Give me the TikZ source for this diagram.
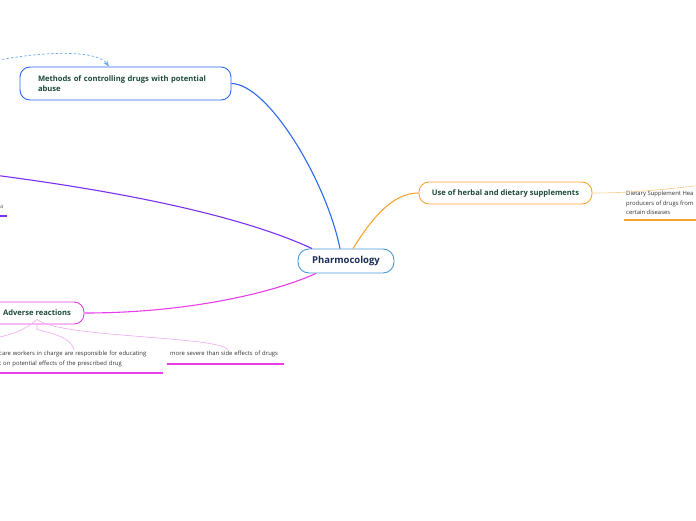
\documentclass[tikz,border=0pt]{standalone}
\usepackage{fontspec}
\setmainfont{Open Sans}
\usetikzlibrary{arrows.meta}

\definecolor{rootblue}{HTML}{4A9AD8}
\definecolor{rootink}{HTML}{1C2D5A}
\definecolor{topicink}{HTML}{1D4A3A}
\definecolor{methodblue}{HTML}{2D68F0}
\definecolor{dashblue}{HTML}{6AAAF0}
\definecolor{adversepurple}{HTML}{7B2FF7}
\definecolor{adversepink}{HTML}{E83EE8}
\definecolor{softpink}{HTML}{F2A6F2}
\definecolor{herbalorange}{HTML}{F7A531}
\definecolor{softorange}{HTML}{F9C98A}

\tikzset{
  rootbox/.style={draw=rootblue, line width=0.9pt, rounded corners=11pt, fill=white,
    minimum width=96pt, minimum height=24pt, inner sep=0pt, text=rootink,
    font=\fontsize{9.5}{11}\selectfont\bfseries},
  topicbox/.style={draw=#1, line width=0.9pt, rounded corners=10pt, fill=white,
    inner sep=0pt, text=topicink, font=\fontsize{7.6}{10}\selectfont\bfseries},
  leafnote/.style={inner sep=1pt, text=black!80, align=left,
    font=\fontsize{5.9}{9.5}\selectfont},
  branch/.style={draw=#1, line width=1.1pt},
  twig/.style={draw=#1, line width=0.6pt},
}

\begin{document}
\begin{tikzpicture}[x=1pt, y=-1pt, >=Stealth]
        \useasboundingbox (0,0) rectangle (696,520);
        \clip (0,0) rectangle (696,520);

        % Central topic
        \node[rootbox] (root) at (346,261) {Pharmocology};

        % Main topics
        \node[topicbox=methodblue, minimum width=211pt, minimum height=33pt,
              text width=175pt, align=left] (methods) at (125.5,83.5)
              {Methods of controlling drugs with potential\\abuse};
        \node[topicbox=herbalorange, minimum width=173pt, minimum height=22pt] (herbal) at (505.5,193)
              {Use of herbal and dietary supplements};
        \node[topicbox=adversepink, minimum width=94pt, minimum height=22pt] (adverse) at (37,313)
              {Adverse reactions};

        % Sub topics (cut off at the edges)
        \node[leafnote, anchor=north west] (dietary) at (625,190)
              {Dietary Supplement Hea\\producers of drugs from\\certain diseases};
        \node[leafnote, anchor=north west, text width=160pt] (care) at (-2,350)
              {care workers in charge are responsible for educating\\t on potential effects of the prescribed drug};
        \node[leafnote, anchor=north west, text width=115pt] (severe) at (169,350)
              {more severe than side effects of drugs};
        \node[leafnote, text=black!60, anchor=north west] (purpleleaf) at (-1,204) {a};

        % Free ends of branches that leave the page
        \coordinate (offleft) at (-30,172);
        \coordinate (offdash) at (-20,64);
        \coordinate (offpink) at (-20,341);
        \coordinate (offright) at (730,182);

        % Branches from the centre
        \draw[branch=methodblue] (methods.east) .. controls (268,84) and (326,180) .. ([xshift=-6pt]root.north);
        \draw[branch=adversepurple] (offleft) .. controls (150,194) and (255,222) .. ([xshift=-34pt]root.north);
        \draw[branch=adversepink] (adverse.east) .. controls (190,313) and (275,292) .. ([xshift=-30pt]root.south);
        \draw[branch=herbalorange] ([xshift=7pt]root.north) .. controls (378,208) and (398,193) .. (herbal.west);

        % Dashed relation into the methods topic
        \draw[dashblue, line width=0.7pt, dash pattern=on 2.5pt off 2pt, ->]
              (offdash) .. controls (30,52) and (95,48) .. ([xshift=-16.5pt]methods.north);

        % Sub branches
        \draw[twig=softorange] (herbal.east) .. controls (640,193) and (675,188) .. (offright);
        \draw[twig=softpink] (adverse.south) -- ++(0,5) .. controls (55,334) and (71,338) .. ([xshift=-5pt]care.north);
        \draw[twig=softpink] ([yshift=5pt]adverse.south) .. controls (60,338) and (222,336) .. (severe.north);
        \draw[twig=softpink] ([yshift=5pt]adverse.south) .. controls (20,334) and (5,336) .. (offpink);

        % Underlines of the sub topics
        \draw[herbalorange, line width=1.1pt] (624,220) -- (700,220);
        \draw[adversepink, line width=1.1pt] (0,373) -- (163,373);
        \draw[adversepink, line width=1.1pt] (167,364) -- (284,364);
        \draw[adversepurple, line width=1.1pt] (0,216) -- (7,216);
\end{tikzpicture}
\end{document}
